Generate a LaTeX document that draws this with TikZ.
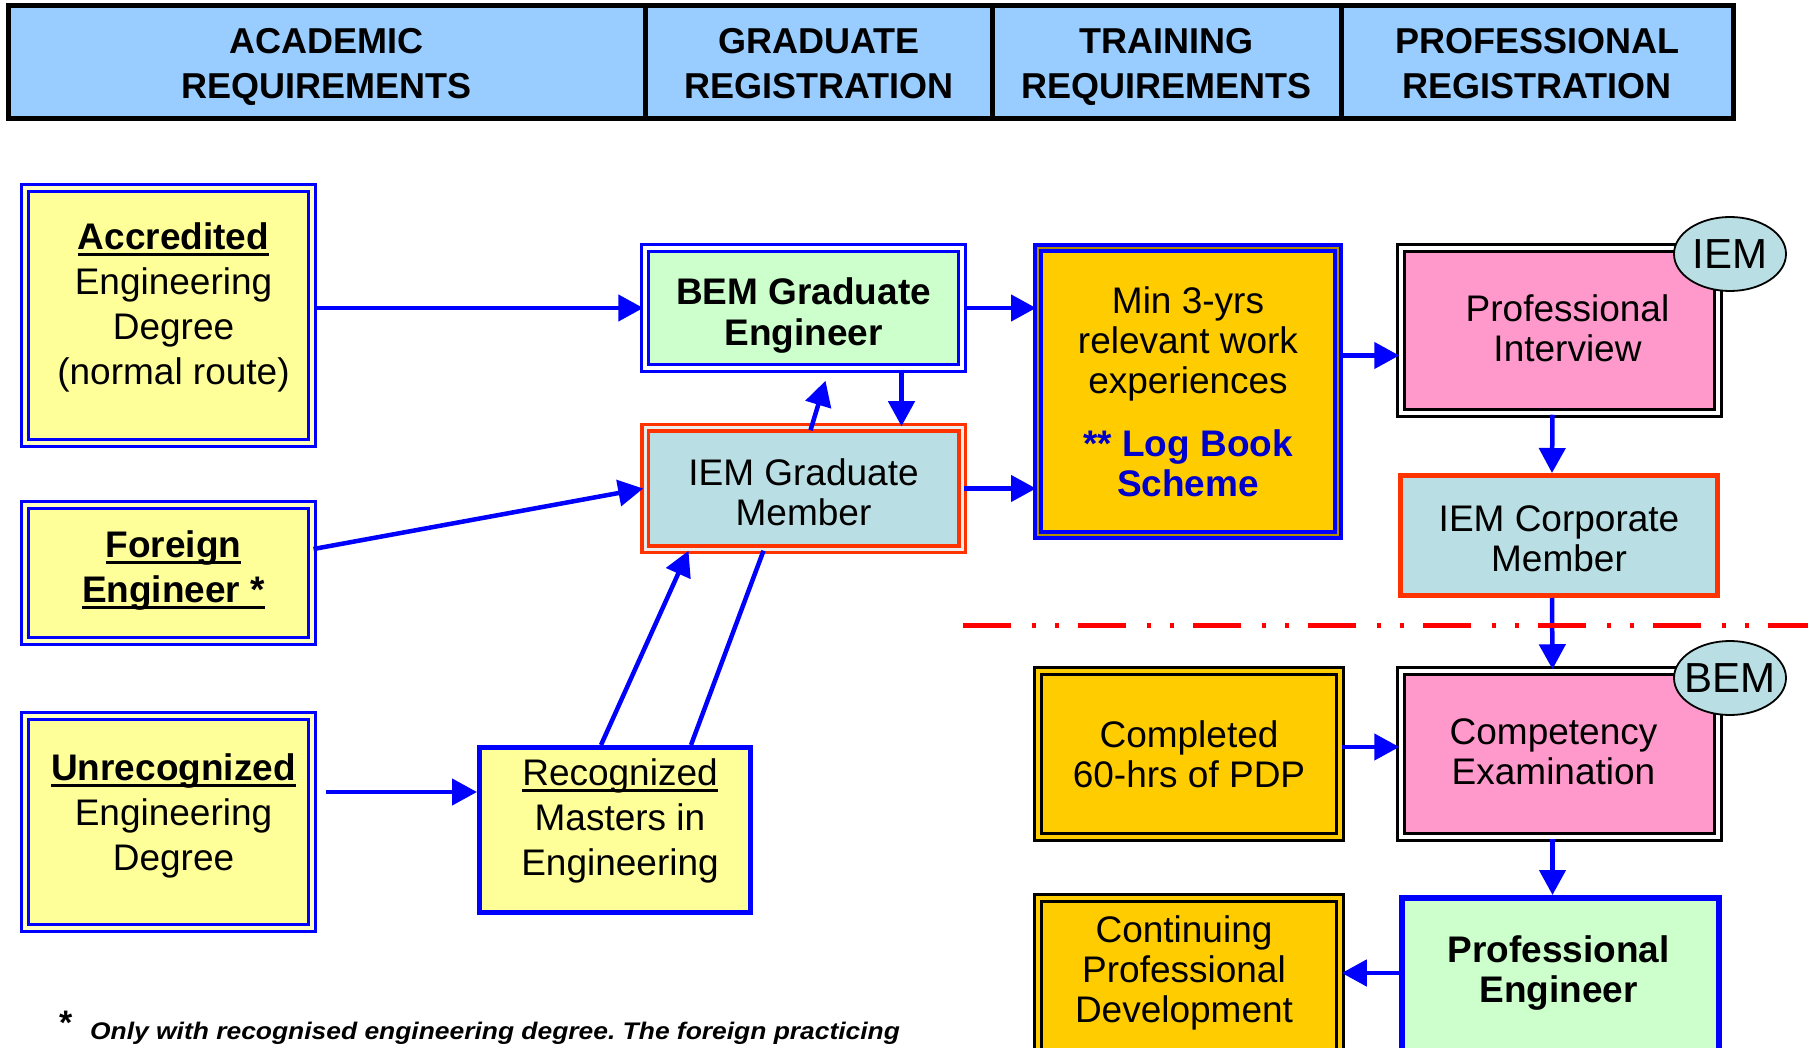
\documentclass[tikz,border=0pt]{standalone}
\usepackage{fontspec}
\setmainfont{Liberation Sans}
\usetikzlibrary{arrows.meta,shapes.geometric}
\definecolor{hdrblue}{HTML}{99CCFF}
\definecolor{paleyellow}{HTML}{FFFF99}
\definecolor{palegreen}{HTML}{CCFFCC}
\definecolor{iemblue}{HTML}{B9DFE4}
\definecolor{gold}{HTML}{FFCC00}
\definecolor{pinkbox}{HTML}{FF99CC}
\definecolor{iemred}{HTML}{FF3300}
\definecolor{logblue}{HTML}{0000CC}
\newsavebox{\ulbox}
\newcommand{\ulword}[1]{\sbox{\ulbox}{#1}\rlap{\rule[-6.5pt]{\wd\ulbox}{3pt}}\usebox{\ulbox}}
\frenchspacing
\begin{document}
\begin{tikzpicture}[x=1pt, y=-1pt,
	txt/.style={align=center, inner sep=0pt, font=\fontsize{37}{40}\selectfont},
	tx/.style 2 args={label={[txt,#1]center:{#2}}},
	hdrtxt/.style={font=\bfseries\fontsize{36}{45}\selectfont},
	lefttxt/.style={font=\fontsize{37}{45}\selectfont},
	hdr/.style={draw=black, line width=5pt, fill=hdrblue, minimum height=113.5pt, inner sep=0pt},
	yelbox/.style={draw=blue, line width=3pt, double=paleyellow!60!white, double distance=4pt, fill=paleyellow, inner sep=0pt},
	bemgrad/.style={draw=blue, line width=3.5pt, double=white, double distance=3.5pt, fill=palegreen, inner sep=0pt},
	iemgrad/.style={draw=iemred, line width=3.5pt, double=white!85!gray, double distance=3pt, fill=iemblue, inner sep=0pt},
	logbox/.style={draw=blue, line width=4pt, double=gold!70!black, double distance=1.5pt, fill=gold, inner sep=0pt},
	pinkdbl/.style={draw=black, line width=3.5pt, double=white, double distance=3.5pt, fill=pinkbox, inner sep=0pt},
	golddbl/.style={draw=black, line width=3.5pt, double=gold, double distance=3.5pt, fill=gold, inner sep=0pt},
	corpbox/.style={draw=iemred, line width=5pt, fill=iemblue, inner sep=0pt},
	bluesingle/.style={draw=blue, line width=5pt, inner sep=0pt},
	tag/.style={ellipse, draw=black, line width=1.8pt, fill=iemblue, minimum width=112pt, minimum height=74pt, inner xsep=-25pt, inner ysep=0pt, font=\fontsize{42}{42}\selectfont},
	arr/.style={draw=blue, line width=4.5pt, -{Triangle[length=25pt,width=26pt]}},
	link/.style={draw=blue, line width=4.5pt}]
	\useasboundingbox (0,0) rectangle (1808,1048);
	\clip (0,0) rectangle (1808,1048);
	% column headings
	\node[hdr, minimum width=637pt, tx={hdrtxt,yshift=-4.6pt}{ACADEMIC\\REQUIREMENTS}] (hacad) at (326.5,62.25) {};
	\node[hdr, minimum width=347.5pt, tx={hdrtxt,yshift=-1.7pt}{GRADUATE\\REGISTRATION}] (hgrad) at (818.75,62.25) {};
	\node[hdr, minimum width=348.5pt, tx={hdrtxt,yshift=-4.6pt}{TRAINING\\REQUIREMENTS}] (htrain) at (1166.75,62.25) {};
	\node[hdr, minimum width=392pt, tx={hdrtxt,yshift=-1.7pt}{PROFESSIONAL\\REGISTRATION}] (hprof) at (1537,62.25) {};
	% academic routes
	\node[yelbox, minimum width=287pt, minimum height=255pt, tx={lefttxt,xshift=5pt,yshift=8pt}{\ulword{\textbf{Accredited}}\\Engineering\\Degree\\(normal route)}] (acc) at (168.5,315.5) {};
	\node[yelbox, minimum width=287pt, minimum height=136pt, tx={lefttxt,xshift=5pt,yshift=2pt}{\ulword{\textbf{Foreign}}\\\ulword{\textbf{Engineer *}}}] (frn) at (168.5,573) {};
	\node[yelbox, minimum width=287pt, minimum height=212pt, tx={lefttxt,xshift=5pt,yshift=6pt}{\ulword{\textbf{Unrecognized}}\\Engineering\\Degree}] (unr) at (168.5,822) {};
	\node[bluesingle, fill=paleyellow, minimum width=271pt, minimum height=165pt, tx={lefttxt,xshift=5pt,yshift=9pt}{\ulword{Recognized}\\Masters in\\Engineering}] (rec) at (615,830) {};
	% graduate registration
	\node[bemgrad, minimum width=317pt, minimum height=120pt, tx={font=\bfseries\fontsize{37}{41}\selectfont,yshift=-7.5pt}{BEM Graduate\\Engineer}] (bem) at (803.5,308) {};
	\node[iemgrad, minimum width=317pt, minimum height=121pt, tx={yshift=-4pt}{IEM Graduate\\Member}] (igm) at (803.5,488.5) {};
	% training
	\node[logbox, minimum width=300pt, minimum height=287pt, tx={}{Min 3-yrs\\relevant work\\experiences\\[23pt]{\color{logblue}\bfseries ** Log Book}\\{\color{logblue}\bfseries Scheme}}] (min) at (1188,391.5) {};
	\node[golddbl, minimum width=302pt, minimum height=166pt, tx={}{Completed\\60-hrs of PDP}] (cpl) at (1189,754) {};
	\node[golddbl, minimum width=302pt, minimum height=192pt, tx={xshift=-5pt,yshift=21.5pt}{Continuing\\Professional\\Development}] (cpd) at (1189,994) {};
	% professional registration
	\node[pinkdbl, minimum width=317pt, minimum height=165pt, tx={xshift=8pt,yshift=2pt}{Professional\\Interview}] (pi) at (1559.5,330.5) {};
	\node[corpbox, minimum width=317pt, minimum height=120pt, tx={yshift=-3.5pt}{IEM Corporate\\Member}] (icm) at (1559,535.5) {};
	\node[pinkdbl, minimum width=317pt, minimum height=166pt, tx={xshift=-6pt,yshift=2pt}{Competency\\Examination}] (cmp) at (1559.5,754) {};
	\node[bluesingle, line width=6pt, fill=palegreen, minimum width=317pt, minimum height=192pt, tx={font=\bfseries\fontsize{37}{40}\selectfont,xshift=-2pt,yshift=21pt}{Professional\\Engineer}] (pe) at (1560.5,994) {};
	\node[tag] (iemtag) at (1730,254) {IEM};
	\node[tag] (bemtag) at (1730,678) {BEM};
	% connectors
	\draw[arr] (acc.east |- bem.west) -- (bem.west);
	\draw[arr] ([yshift=24pt]frn.east) -- (igm.west);
	\draw[arr] ([xshift=12pt,yshift=30pt]unr.east) -- ([yshift=38pt]rec.west);
	\draw[arr] ([xshift=-14pt]rec.north) -- ([xshift=-115pt]igm.south);
	\draw[link] ([xshift=76pt]rec.north) -- ([xshift=-40pt]igm.south);
	\draw[arr] ([xshift=98pt]bem.south) -- ([xshift=98pt]igm.north);
	\draw[arr] ([xshift=7pt,yshift=-4pt]igm.north) -- ([xshift=22pt,yshift=-11pt]bem.south);
	\draw[arr] (bem.east) -- (min.west |- bem.east);
	\draw[arr] (igm.east) -- (min.west |- igm.east);
	\coordinate (pin) at ([yshift=-25pt]pi.west);
	\draw[arr] (min.east |- pin) -- (pin);
	\draw[arr] ([xshift=-7pt]pi.south) -- ([xshift=-7pt]icm.north);
	\draw[arr] ([xshift=-7pt]icm.south) -- ([xshift=-7pt]cmp.north);
	\draw[arr] ([yshift=7pt]cpl.east) -- ([yshift=7pt]cmp.west);
	\draw[arr] ([xshift=-7pt]cmp.south) -- ([xshift=-8pt]pe.north);
	\draw[arr] ([yshift=21pt]pe.west) -- ([yshift=21pt]cpd.east);
	% IEM / BEM divide
	\draw[red, line width=5pt, dash pattern=on 48pt off 21pt on 4pt off 19pt on 4pt off 19pt] (963,625) -- (1808,625);
	% footnote
	\node[anchor=base west, inner sep=0pt, font=\bfseries\fontsize{34}{34}\selectfont] (star) at (59,1034) {*};
	\node[anchor=base west, inner sep=0pt, font=\bfseries\itshape\fontsize{24}{24}\selectfont] (note) at (90,1039) {\scalebox{1.1}[1]{Only with recognised engineering degree. The foreign practicing}};
\end{tikzpicture}
\end{document}
